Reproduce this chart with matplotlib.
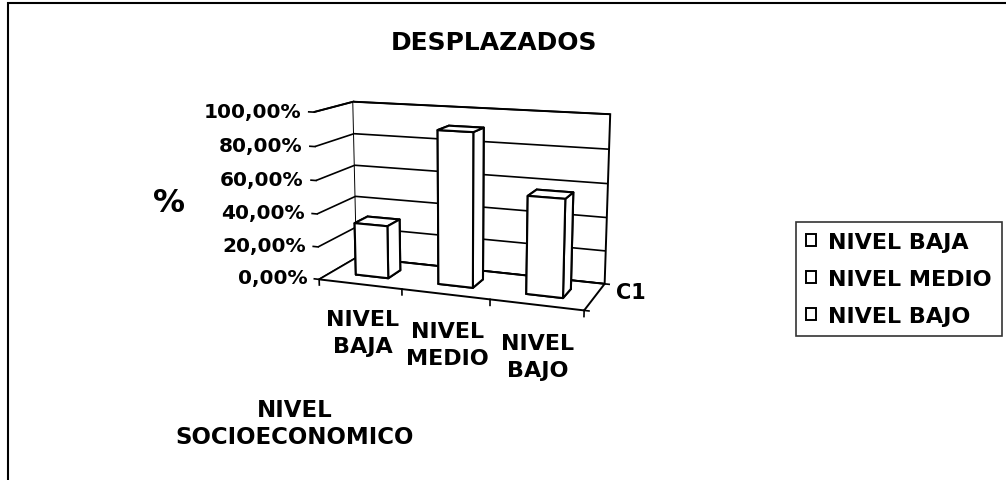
import numpy as np
import matplotlib
matplotlib.use("Agg")
import matplotlib.pyplot as plt
from matplotlib.patches import Patch, Rectangle
from mpl_toolkits.mplot3d import proj3d

# ---------------- data ----------------
categories = ["NIVEL\nBAJA", "NIVEL\nMEDIO", "NIVEL\nBAJO"]
legend_labels = ["NIVEL BAJA", "NIVEL MEDIO", "NIVEL BAJO"]
values = [0.32, 0.91, 0.57]
series_name = "C1"
zticks = [0.0, 0.2, 0.4, 0.6, 0.8, 1.0]
ztick_labels = ["0,00%", "20,00%", "40,00%", "60,00%", "80,00%", "100,00%"]
title = "DESPLAZADOS"
zlabel = "%"
xlabel = "NIVEL\nSOCIOECONOMICO"

W, H = 1006, 481
plt.rcParams["font.family"] = ["DejaVu Sans"]
plt.rcParams["font.weight"] = "bold"
try:
    plt.rcParams["axes3d.automargin"] = False
except KeyError:
    pass

fig = plt.figure(figsize=(W / 100, H / 100), dpi=100)
ax = fig.add_axes([0, 0, 1, 1], projection="3d")
ax.set_facecolor((1, 1, 1, 0))
n = len(values)
xmin, xmax = -0.5, n - 0.5
ax.set_xlim(xmin, xmax)
ax.set_ylim(0, 1)
ax.set_zlim(0, 1)

# camera (fitted to the reference's box corners)
ax.view_init(elev=12.709, azim=-69.557)
ax.set_proj_type("persp", focal_length=0.5663)
ax.set_box_aspect((1, 0.3145, 0.6212))

for a in (ax.xaxis, ax.yaxis, ax.zaxis):
    a.set_pane_color((1, 1, 1, 1))
    a.pane.set_edgecolor("black")
    a.pane.set_linewidth(1.4)
    a.line.set_color((0, 0, 0, 0))
    a._axinfo["tick"]["inward_factor"] = 0
    a._axinfo["tick"]["outward_factor"] = 0
ax.set_xticks([])
ax.set_yticks([])
ax.set_zticks(zticks)
ax.set_zticklabels([])
ax.zaxis._axinfo["grid"].update(color="black", linewidth=1.2, linestyle="-")

dx, dy = 0.4, 0.35
xs = np.arange(n)
ax.bar3d(xs - dx / 2, np.full(n, 0.5 - dy / 2), np.zeros(n), dx, dy, values,
         color="white", edgecolor="black", shade=False, linewidth=1.5)

# small tick marks like the original chart
for v in zticks:
    ax.plot([xmin - 0.06, xmin], [0, 0], [v, v], color="black", lw=1.2)
for b in np.arange(n + 1) - 0.5:
    ax.plot([b, b], [0, 0], [0, -0.035], color="black", lw=1.2)
for yv in (0.0, 1.0):
    ax.plot([xmax, xmax + 0.05], [yv, yv], [0, 0], color="black", lw=1.2)


def to_px(x, y, z):
    X, Y, _ = proj3d.proj_transform(np.atleast_1d(x).astype(float),
                                    np.atleast_1d(y).astype(float),
                                    np.atleast_1d(z).astype(float), ax.get_proj())
    return ax.transData.transform(np.column_stack([X, Y]))


# place the box: corners of the chart box -> reference pixel positions
cx = np.array([xmin, xmax, xmax, xmin, xmin, xmin, xmax])
cy = np.array([0, 0, 1, 1, 0, 1, 1.0])
cz = np.array([0, 0, 0, 0, 1, 1, 1.0])
T = np.array([[321, 278], [584, 313], [605, 283], [355, 261],
              [312, 114], [355, 102], [610, 115]], float)
Td = np.column_stack([T[:, 0], H - T[:, 1]])
for _ in range(2):
    fig.canvas.draw()
    Pp = to_px(cx, cy, cz)
    bb = ax.get_position().frozen()
    side0 = min(bb.width * W, bb.height * H)
    c0 = np.array([(bb.x0 + bb.width / 2) * W, (bb.y0 + bb.height / 2) * H])
    Pm, Tm = Pp.mean(0), Td.mean(0)
    s = np.sum((Pp - Pm) * (Td - Tm)) / np.sum((Pp - Pm) ** 2)
    side = side0 * s
    c = Tm - s * (Pm - c0)
    ax.set_position([(c[0] - side / 2) / W, (c[1] - side / 2) / H,
                     side / W, side / H])
fig.canvas.draw()

# value tick labels
pts = to_px(np.full(len(zticks), xmin - 0.15), np.zeros(len(zticks)), zticks)
for (px, py), lab in zip(pts, ztick_labels):
    fig.text(px / W, py / H, lab, ha="right", va="center", fontsize=14.5,
             fontweight="bold")
# category labels
pts = to_px(xs + 0.02, np.zeros(n), np.full(n, -0.3))
for (px, py), lab in zip(pts, categories):
    fig.text(px / W, py / H, lab, ha="center", va="center", fontsize=16,
             fontweight="bold", linespacing=1.45)
px, py = to_px(xmax + 0.32, 0.8, 0)[0]
fig.text(px / W, py / H, series_name, ha="center", va="center", fontsize=15,
         fontweight="bold")

fig.text(494 / W, 1 - 43 / H, title, ha="center", va="center", fontsize=18,
         fontweight="bold")
fig.text(169 / W, 1 - 203 / H, zlabel, ha="center", va="center", fontsize=23,
         fontweight="bold")
fig.text(295 / W, 1 - 424 / H, xlabel, ha="center", va="center", fontsize=16.5,
         fontweight="bold", linespacing=1.2)

handles = [Patch(facecolor="white", edgecolor="black", linewidth=1.4)
           for _ in legend_labels]
leg = fig.legend(handles, legend_labels, loc="center left",
                 bbox_to_anchor=(796 / W, 1 - 280 / H), frameon=True,
                 fancybox=False, edgecolor="black", fontsize=16,
                 handlelength=0.45, handleheight=0.45, handletextpad=0.55,
                 labelspacing=0.75, borderpad=0.45, borderaxespad=0)
leg.get_frame().set_linewidth(1.2)
for t in leg.get_texts():
    t.set_fontweight("bold")

# outer chart-area border (only top and left fall inside the picture)
fig.add_artist(Rectangle((8 / W, -0.1), 1.2, 1.1 - 4 / H, transform=fig.transFigure,
                         fill=False, edgecolor="black", linewidth=1.5))

fig.savefig("out.png", dpi=100)
